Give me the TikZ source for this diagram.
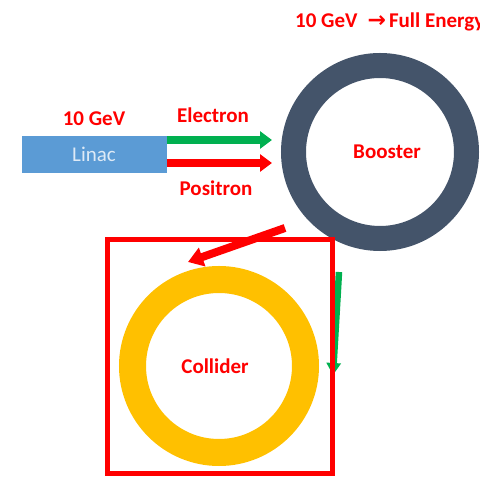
\documentclass[tikz,border=0pt]{standalone}
\usepackage{fontspec}
\setmainfont{Carlito}
\newfontfamily\arrowfont{DejaVu Sans}
\usetikzlibrary{arrows.meta,positioning,calc}
\definecolor{LinacBlue}{RGB}{91,155,213}
\definecolor{LinacText}{RGB}{222,234,246}
\definecolor{BoosterSlate}{RGB}{68,84,106}
\definecolor{ColliderGold}{RGB}{255,192,0}
\definecolor{BeamGreen}{RGB}{0,176,80}
\definecolor{BeamRed}{RGB}{255,0,0}
\tikzset{
  lbl/.style={text=BeamRed,font=\fontsize{21}{25}\selectfont\bfseries,inner sep=0pt},
  linacbox/.style={fill=LinacBlue,minimum width=145pt,minimum height=37pt,
                   text=LinacText,font=\fontsize{21}{25}\selectfont,inner sep=0pt},
  ring/.style={circle,minimum size=173pt,inner sep=0pt},
  frame/.style={draw=BeamRed,line width=5pt,minimum width=225pt,minimum height=234pt,inner sep=0pt},
  arrg/.style={-{Triangle[length=12pt,width=17pt]},BeamGreen,line width=8pt},
  arrr/.style={-{Triangle[length=12pt,width=17pt]},BeamRed,line width=8pt},
  arrd/.style={-{Triangle[length=15pt,width=19pt]},BeamRed,line width=8pt},
  arrv/.style={-{Triangle[length=12pt,width=14pt]},BeamGreen,line width=6.5pt},
}
\begin{document}
\begin{tikzpicture}[x=1pt,y=-1pt]
  \useasboundingbox (0,0) rectangle (480,478);
  % accelerators
  \node[linacbox] (linac) at (94,154.5) {Linac};
  \node[lbl,above=10pt of linac] (linacE) {10 GeV};
  \node[ring,draw=BoosterSlate,line width=25pt] (booster) at (380,152) {};
  \node[lbl] (boosterLbl) at (387,152) {Booster};
  \node[ring,draw=ColliderGold,line width=27pt] (collider) at (219,366) {};
  \node[lbl] (colliderLbl) at (215,366) {Collider};
  \node[lbl,anchor=base west] (energy) at (295,28)
    {10 GeV\hspace{10pt}{\arrowfont\bfseries\fontsize{22}{24}\selectfont →}\hspace{3pt}Full Energy};
  % injection
  \coordinate (eEnd) at (272,140);
  \coordinate (pEnd) at (272,163);
  \draw[arrg] (linac.east |- eEnd) -- (eEnd);
  \draw[arrr] (linac.east |- pEnd) -- (pEnd);
  \node[lbl] (elec) at (213,115) {Electron};
  \node[lbl] (posi) at (216,188) {Positron};
  % transfer to collider
  \coordinate (dStart) at (285,228);
  \coordinate (dEnd) at (188,262);
  \draw[arrd] (dStart) -- (dEnd);
  \coordinate (vStart) at (339,272);
  \coordinate (vEnd) at (333,375);
  \draw[arrv] (vStart) -- (vEnd);
  \node[frame] (box) at (219.5,357) {};
\end{tikzpicture}
\end{document}
